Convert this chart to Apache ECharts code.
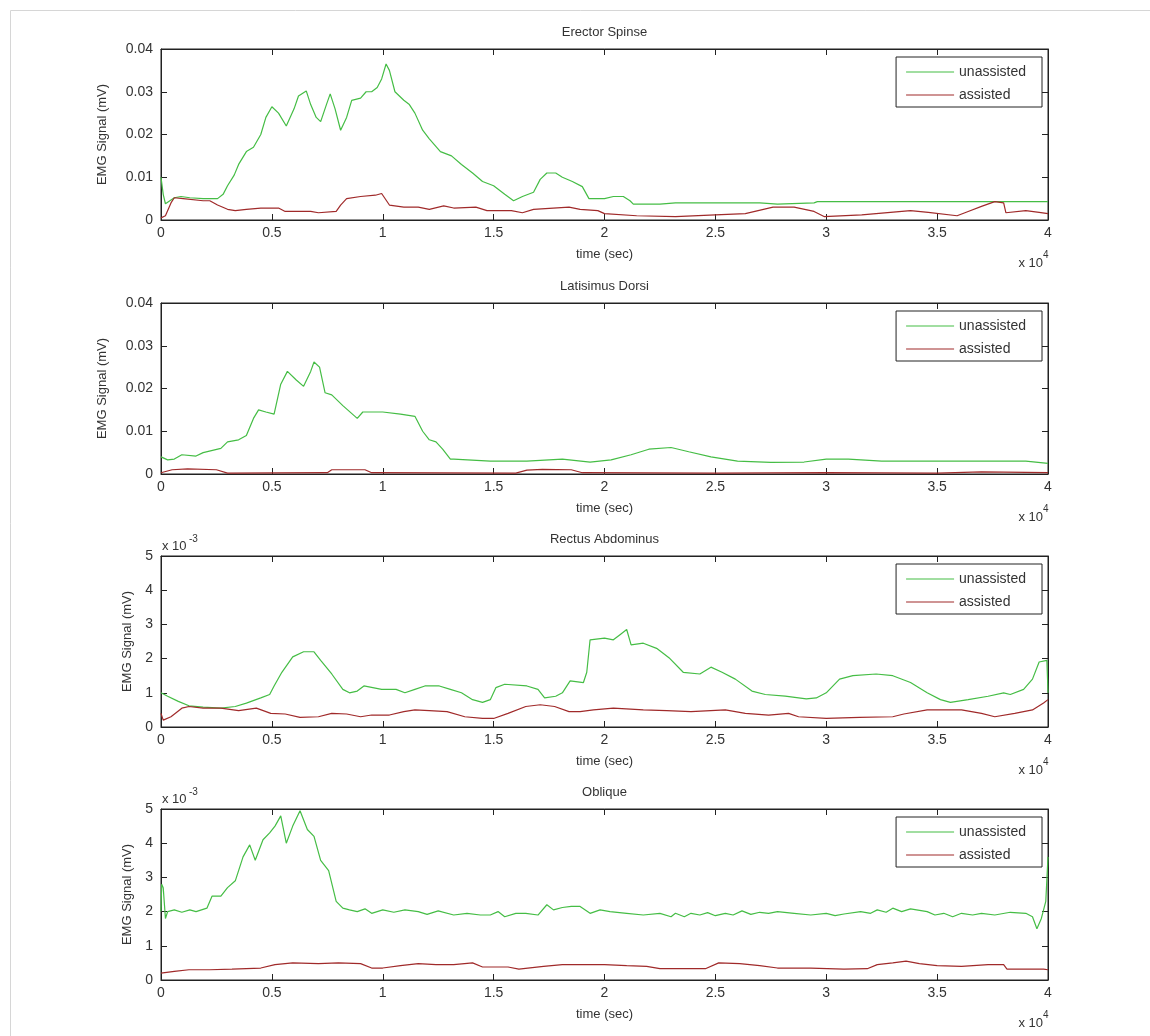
<!DOCTYPE html>
<html>
<head>
<meta charset="utf-8">
<script src="https://cdn.jsdelivr.net/npm/echarts@6/dist/echarts.min.js"></script>
<style>
  html, body { margin: 0; padding: 0; background: #fff; }
  #chart { width: 1150px; height: 1036px; }
</style>
</head>
<body>
<div id="chart"></div>
<script>
// ---------------- DATA (time in units of 10^4, EMG signal in mV) ----------------
const panelTitles = ['Erector Spinse', 'Latisimus Dorsi', 'Rectus Abdominus', 'Oblique'];
const seriesNames = ['unassisted', 'assisted'];
const xTickLabels = ['0', '0.5', '1', '1.5', '2', '2.5', '3', '3.5', '4'];
const yTicksLarge = ['0', '0.01', '0.02', '0.03', '0.04'];
const yTicksSmall = ['0', '1', '2', '3', '4', '5'];   // x 10^-3

// Erector Spinse (mV)
const erectorUnassisted = [
  [0,0.0100],[0.01,0.0060],[0.02,0.0038],[0.04,0.0045],[0.06,0.0052],[0.09,0.0055],[0.13,0.0052],[0.19,0.0050],
  [0.255,0.0050],[0.28,0.0060],[0.30,0.0080],[0.33,0.0105],[0.35,0.0130],[0.385,0.0160],[0.417,0.0170],[0.45,0.0200],
  [0.473,0.0240],[0.50,0.0265],[0.53,0.0250],[0.565,0.0220],[0.60,0.0260],[0.62,0.0290],[0.655,0.0302],[0.675,0.0270],
  [0.70,0.0240],[0.72,0.0230],[0.746,0.0270],[0.763,0.0295],[0.785,0.0260],[0.81,0.0210],[0.837,0.0240],[0.86,0.0280],
  [0.90,0.0285],[0.925,0.0300],[0.95,0.0300],[0.975,0.0310],[0.995,0.0330],[1.015,0.0365],[1.03,0.0350],[1.055,0.0300],
  [1.095,0.0280],[1.12,0.0270],[1.145,0.0250],[1.18,0.0210],[1.21,0.0190],[1.26,0.0160],[1.31,0.0150],[1.355,0.0130],
  [1.405,0.0110],[1.45,0.0090],[1.50,0.0080],[1.55,0.0060],[1.59,0.0045],[1.63,0.0055],[1.68,0.0065],[1.71,0.0095],
  [1.74,0.0110],[1.78,0.0110],[1.81,0.0100],[1.855,0.0090],[1.90,0.0078],[1.93,0.0050],[2.00,0.0050],[2.04,0.0055],
  [2.085,0.0055],[2.115,0.0045],[2.13,0.0037],[2.25,0.0037],[2.32,0.0040],[2.70,0.0040],[2.78,0.0037],[2.945,0.0040],
  [2.96,0.0043],[4.0,0.0043]
];
const erectorAssisted = [
  [0,0.0005],[0.02,0.0010],[0.045,0.0040],[0.06,0.0052],[0.10,0.0050],[0.19,0.0045],[0.22,0.0045],[0.255,0.0035],
  [0.30,0.0025],[0.335,0.0022],[0.385,0.0025],[0.45,0.0028],[0.53,0.0028],[0.56,0.0020],[0.675,0.0020],[0.71,0.0017],
  [0.79,0.0020],[0.81,0.0035],[0.837,0.0050],[0.90,0.0055],[0.967,0.0058],[0.995,0.0062],[1.03,0.0035],[1.095,0.0030],
  [1.16,0.0030],[1.21,0.0025],[1.275,0.0033],[1.32,0.0028],[1.42,0.0030],[1.47,0.0022],[1.58,0.0022],[1.63,0.0017],
  [1.68,0.0025],[1.84,0.0030],[1.89,0.0025],[1.97,0.0022],[2.0,0.0015],[2.145,0.0010],[2.32,0.0008],[2.5,0.0012],
  [2.635,0.0015],[2.76,0.0030],[2.855,0.0030],[2.945,0.0020],[2.99,0.0008],[3.16,0.0012],[3.38,0.0022],[3.46,0.0018],
  [3.59,0.0010],[3.64,0.0020],[3.70,0.0032],[3.76,0.0043],[3.80,0.0040],[3.81,0.0017],[3.90,0.0022],[3.96,0.0018],
  [4.0,0.0015]
];

// Latisimus Dorsi (mV)
const latisimusUnassisted = [
  [0,0.0040],[0.03,0.0033],[0.06,0.0035],[0.094,0.0045],[0.158,0.0042],[0.19,0.0050],[0.27,0.0060],[0.30,0.0075],
  [0.35,0.0080],[0.385,0.0090],[0.417,0.0130],[0.44,0.0150],[0.473,0.0145],[0.51,0.0140],[0.54,0.0210],[0.57,0.0240],
  [0.61,0.0220],[0.643,0.0205],[0.675,0.0240],[0.69,0.0262],[0.715,0.0250],[0.74,0.0190],[0.77,0.0185],[0.82,0.0160],
  [0.885,0.0130],[0.91,0.0145],[1.0,0.0145],[1.08,0.0140],[1.145,0.0135],[1.18,0.0100],[1.21,0.0080],[1.24,0.0075],
  [1.27,0.0058],[1.305,0.0035],[1.32,0.0035],[1.485,0.0030],[1.65,0.0030],[1.81,0.0035],[1.935,0.0028],[2.03,0.0033],
  [2.12,0.0045],[2.2,0.0058],[2.3,0.0062],[2.38,0.0052],[2.48,0.0040],[2.6,0.0030],[2.75,0.0027],[2.9,0.0028],
  [3.0,0.0035],[3.1,0.0035],[3.25,0.0030],[3.5,0.0030],[3.75,0.0030],[3.9,0.0030],[4.0,0.0025]
];
const latisimusAssisted = [
  [0,0.0003],[0.05,0.0010],[0.12,0.0012],[0.25,0.0010],[0.30,0.0002],[0.75,0.0003],[0.77,0.0010],[0.92,0.0010],
  [0.95,0.0003],[1.6,0.0002],[1.65,0.0009],[1.72,0.0011],[1.85,0.0010],[1.9,0.0003],[2.5,0.0002],[3.0,0.0003],
  [3.5,0.0002],[3.7,0.0005],[4.0,0.0003]
];

// Rectus Abdominus (x 10^-3 mV)
const rectusUnassisted = [
  [0,1.00],[0.03,0.90],[0.078,0.75],[0.126,0.62],[0.19,0.58],[0.27,0.55],[0.335,0.60],[0.385,0.70],[0.45,0.85],
  [0.49,0.95],[0.51,1.20],[0.545,1.60],[0.594,2.05],[0.643,2.20],[0.69,2.20],[0.72,1.95],[0.77,1.55],[0.82,1.10],
  [0.85,1.00],[0.885,1.05],[0.915,1.20],[0.995,1.10],[1.06,1.10],[1.10,1.00],[1.145,1.10],[1.19,1.20],[1.255,1.20],
  [1.305,1.10],[1.355,1.00],[1.405,0.80],[1.45,0.72],[1.485,0.80],[1.51,1.15],[1.55,1.25],[1.65,1.20],[1.70,1.10],
  [1.73,0.85],[1.78,0.90],[1.81,1.00],[1.845,1.35],[1.905,1.30],[1.92,1.60],[1.935,2.55],[2.0,2.60],[2.04,2.55],
  [2.07,2.70],[2.10,2.85],[2.12,2.40],[2.175,2.45],[2.235,2.30],[2.295,2.00],[2.355,1.60],[2.43,1.55],[2.48,1.75],
  [2.53,1.60],[2.59,1.40],[2.665,1.05],[2.725,0.95],[2.815,0.90],[2.91,0.82],[2.955,0.85],[3.0,1.00],[3.06,1.40],
  [3.12,1.50],[3.225,1.55],[3.30,1.50],[3.38,1.30],[3.455,1.00],[3.515,0.80],[3.56,0.72],[3.64,0.80],[3.73,0.90],
  [3.80,1.00],[3.83,0.95],[3.89,1.10],[3.93,1.40],[3.96,1.90],[3.995,1.95],[4.0,1.00]
];
const rectusAssisted = [
  [0,0.40],[0.01,0.20],[0.045,0.30],[0.094,0.55],[0.126,0.60],[0.19,0.55],[0.27,0.55],[0.35,0.48],[0.43,0.55],
  [0.495,0.40],[0.56,0.38],[0.627,0.28],[0.71,0.30],[0.77,0.40],[0.837,0.38],[0.90,0.30],[0.95,0.35],[1.03,0.35],
  [1.095,0.45],[1.145,0.50],[1.21,0.48],[1.29,0.45],[1.37,0.30],[1.45,0.25],[1.50,0.25],[1.565,0.40],[1.645,0.60],
  [1.71,0.65],[1.775,0.60],[1.84,0.45],[1.89,0.45],[1.95,0.50],[2.04,0.55],[2.175,0.50],[2.28,0.48],[2.39,0.45],
  [2.545,0.50],[2.635,0.40],[2.74,0.35],[2.83,0.40],[2.875,0.30],[3.0,0.25],[3.15,0.28],[3.30,0.30],[3.35,0.38],
  [3.455,0.50],[3.61,0.50],[3.70,0.40],[3.76,0.30],[3.85,0.40],[3.93,0.50],[3.98,0.70],[4.0,0.80]
];

// Oblique (x 10^-3 mV)
const obliqueUnassisted = [
  [0,2.0],[0.003,2.8],[0.01,2.7],[0.02,1.8],[0.03,2.0],[0.06,2.05],[0.094,1.98],[0.13,2.05],[0.158,2.0],[0.207,2.1],
  [0.23,2.45],[0.27,2.45],[0.30,2.7],[0.335,2.9],[0.37,3.6],[0.40,3.95],[0.425,3.5],[0.46,4.1],[0.49,4.3],[0.514,4.5],
  [0.54,4.8],[0.565,4.0],[0.594,4.5],[0.627,4.95],[0.66,4.4],[0.69,4.2],[0.72,3.5],[0.756,3.2],[0.79,2.3],[0.82,2.1],
  [0.85,2.05],[0.885,2.0],[0.92,2.08],[0.95,1.95],[1.0,2.05],[1.05,1.98],[1.1,2.05],[1.16,2.0],[1.2,1.92],[1.25,2.02],
  [1.32,1.9],[1.38,1.95],[1.44,1.9],[1.485,1.9],[1.52,2.0],[1.55,1.85],[1.6,1.95],[1.645,1.95],[1.7,1.9],[1.74,2.2],
  [1.77,2.05],[1.81,2.12],[1.85,2.15],[1.89,2.15],[1.935,1.95],[1.98,2.05],[2.025,2.0],[2.1,1.95],[2.175,1.9],
  [2.25,1.95],[2.3,1.85],[2.32,1.95],[2.36,1.85],[2.39,1.95],[2.43,1.9],[2.465,1.97],[2.5,1.88],[2.545,1.95],
  [2.58,1.9],[2.62,2.02],[2.66,1.92],[2.70,1.98],[2.74,1.95],[2.78,2.0],[2.855,1.95],[2.93,1.9],[3.0,1.95],
  [3.04,1.88],[3.08,1.93],[3.155,2.0],[3.2,1.95],[3.23,2.05],[3.27,1.98],[3.30,2.1],[3.34,2.0],[3.38,2.08],
  [3.455,2.0],[3.49,1.9],[3.53,1.95],[3.57,1.85],[3.61,1.95],[3.66,1.9],[3.70,1.95],[3.76,1.9],[3.83,1.98],
  [3.90,1.95],[3.93,1.85],[3.95,1.5],[3.97,1.8],[3.99,2.3],[4.0,3.6]
];
const obliqueAssisted = [
  [0,0.20],[0.06,0.25],[0.126,0.30],[0.22,0.30],[0.32,0.32],[0.45,0.35],[0.514,0.45],[0.594,0.50],[0.71,0.48],
  [0.80,0.50],[0.90,0.48],[0.95,0.35],[1.0,0.35],[1.08,0.42],[1.16,0.48],[1.24,0.45],[1.32,0.45],[1.405,0.50],
  [1.45,0.38],[1.565,0.38],[1.614,0.32],[1.725,0.40],[1.81,0.45],[2.0,0.45],[2.1,0.42],[2.19,0.40],[2.25,0.33],
  [2.455,0.33],[2.515,0.50],[2.61,0.48],[2.70,0.42],[2.78,0.35],[2.93,0.35],[3.08,0.32],[3.185,0.33],[3.23,0.45],
  [3.30,0.50],[3.36,0.55],[3.42,0.48],[3.50,0.42],[3.61,0.40],[3.73,0.45],[3.80,0.45],[3.815,0.32],[3.98,0.32],
  [4.0,0.30]
];

// ---------------- LAYOUT / STYLE ----------------
const FONT = '"Liberation Sans", Arial, Helvetica, sans-serif';
const PLOT_LEFT = 161, PLOT_RIGHT = 1048, PLOT_H = 171;
const PLOT_TOPS = [49, 303, 556, 809];
const GREEN = '#45bd45', RED = '#a02a2a', AXIS = '#222', TXT = '#333';

const panels = [
  { un: erectorUnassisted,   as: erectorAssisted,   yMax: 0.04, yInt: 0.01, small: false },
  { un: latisimusUnassisted, as: latisimusAssisted, yMax: 0.04, yInt: 0.01, small: false },
  { un: rectusUnassisted,    as: rectusAssisted,    yMax: 5,    yInt: 1,    small: true  },
  { un: obliqueUnassisted,   as: obliqueAssisted,   yMax: 5,    yInt: 1,    small: true  }
];

const grid = [], xAxis = [], yAxis = [], series = [], legend = [], graphic = [];

graphic.push({ type: 'rect', silent: true, z: 0,
  shape: { x: 10.5, y: 10.5, width: 1200, height: 1100 },
  style: { fill: 'none', stroke: '#d6d6d6', lineWidth: 1 } });

panels.forEach((p, i) => {
  const top = PLOT_TOPS[i];
  const bottom = top + PLOT_H;
  grid.push({ left: PLOT_LEFT, top: top, width: PLOT_RIGHT - PLOT_LEFT, height: PLOT_H,
    show: true, borderColor: AXIS, borderWidth: 1, backgroundColor: '#fff' });

  const xCommon = { gridIndex: i, type: 'value', min: 0, max: 4, interval: 0.5,
    axisLine: { show: true, onZero: false, lineStyle: { color: AXIS, width: 1 } },
    axisTick: { show: true, inside: true, length: 6, lineStyle: { color: AXIS } },
    splitLine: { show: false } };
  xAxis.push(Object.assign({}, xCommon, { position: 'bottom',
    axisLabel: { color: TXT, fontSize: 14, fontFamily: FONT, margin: 6,
      formatter: (v) => xTickLabels[Math.round(v / 0.5)] },
    name: 'time (sec)', nameLocation: 'middle', nameGap: 28,
    nameTextStyle: { color: TXT, fontSize: 13, fontFamily: FONT } }));
  xAxis.push(Object.assign({}, xCommon, { position: 'top', axisLabel: { show: false } }));

  const labels = p.small ? yTicksSmall : yTicksLarge;
  const yCommon = { gridIndex: i, type: 'value', min: 0, max: p.yMax, interval: p.yInt,
    axisLine: { show: true, onZero: false, lineStyle: { color: AXIS, width: 1 } },
    axisTick: { show: true, inside: true, length: 6, lineStyle: { color: AXIS } },
    splitLine: { show: false } };
  yAxis.push(Object.assign({}, yCommon, { position: 'left',
    axisLabel: { color: TXT, fontSize: 14, fontFamily: FONT, margin: 8,
      formatter: (v) => labels[Math.round(v / p.yInt)] },
    name: 'EMG Signal (mV)', nameLocation: 'middle', nameGap: p.small ? 26 : 52, nameRotate: 90,
    nameTextStyle: { color: TXT, fontSize: 13, fontFamily: FONT } }));
  yAxis.push(Object.assign({}, yCommon, { position: 'right', axisLabel: { show: false } }));

  series.push({ name: seriesNames[0], type: 'line', xAxisIndex: 2 * i, yAxisIndex: 2 * i,
    data: p.un, symbol: 'none', showSymbol: false, animation: false, z: 3,
    lineStyle: { color: GREEN, width: 1.2 }, itemStyle: { color: GREEN } });
  series.push({ name: seriesNames[1], type: 'line', xAxisIndex: 2 * i, yAxisIndex: 2 * i,
    data: p.as, symbol: 'none', showSymbol: false, animation: false, z: 4,
    lineStyle: { color: RED, width: 1.2 }, itemStyle: { color: RED } });

  legend.push({ data: seriesNames, orient: 'vertical', right: 1150 - 1042, top: top + 8,
    backgroundColor: '#fff', borderColor: AXIS, borderWidth: 1, borderRadius: 0,
    padding: [8, 16, 5, 10], itemGap: 9, itemWidth: 48, itemHeight: 14,
    selectedMode: false, icon: 'path://M0,7 L48,7 L48,8 L0,8 Z',
    textStyle: { color: TXT, fontSize: 14, fontFamily: FONT } });

  // panel title
  graphic.push({ type: 'text', silent: true, x: (PLOT_LEFT + PLOT_RIGHT) / 2, y: top - 17,
    style: { text: panelTitles[i], align: 'center', verticalAlign: 'middle',
      fill: TXT, font: '13px ' + FONT } });
  // x-axis multiplier  x 10^4
  graphic.push({ type: 'text', silent: true, x: PLOT_RIGHT - 5, y: bottom + 43,
    style: { text: 'x 10', align: 'right', verticalAlign: 'middle', fill: TXT, font: '13px ' + FONT } });
  graphic.push({ type: 'text', silent: true, x: PLOT_RIGHT - 5, y: bottom + 35,
    style: { text: '4', align: 'left', verticalAlign: 'middle', fill: TXT, font: '10px ' + FONT } });
  if (p.small) {
    graphic.push({ type: 'text', silent: true, x: PLOT_LEFT + 1, y: top - 10,
      style: { text: 'x 10', align: 'left', verticalAlign: 'middle', fill: TXT, font: '13px ' + FONT } });
    graphic.push({ type: 'text', silent: true, x: PLOT_LEFT + 28, y: top - 17,
      style: { text: '-3', align: 'left', verticalAlign: 'middle', fill: TXT, font: '10px ' + FONT } });
  }
});

const chart = echarts.init(document.getElementById('chart'), null, { renderer: 'canvas' });
chart.setOption({
  backgroundColor: '#fff',
  animation: false,
  grid, xAxis, yAxis, series, legend, graphic
});
</script>
</body>
</html>
